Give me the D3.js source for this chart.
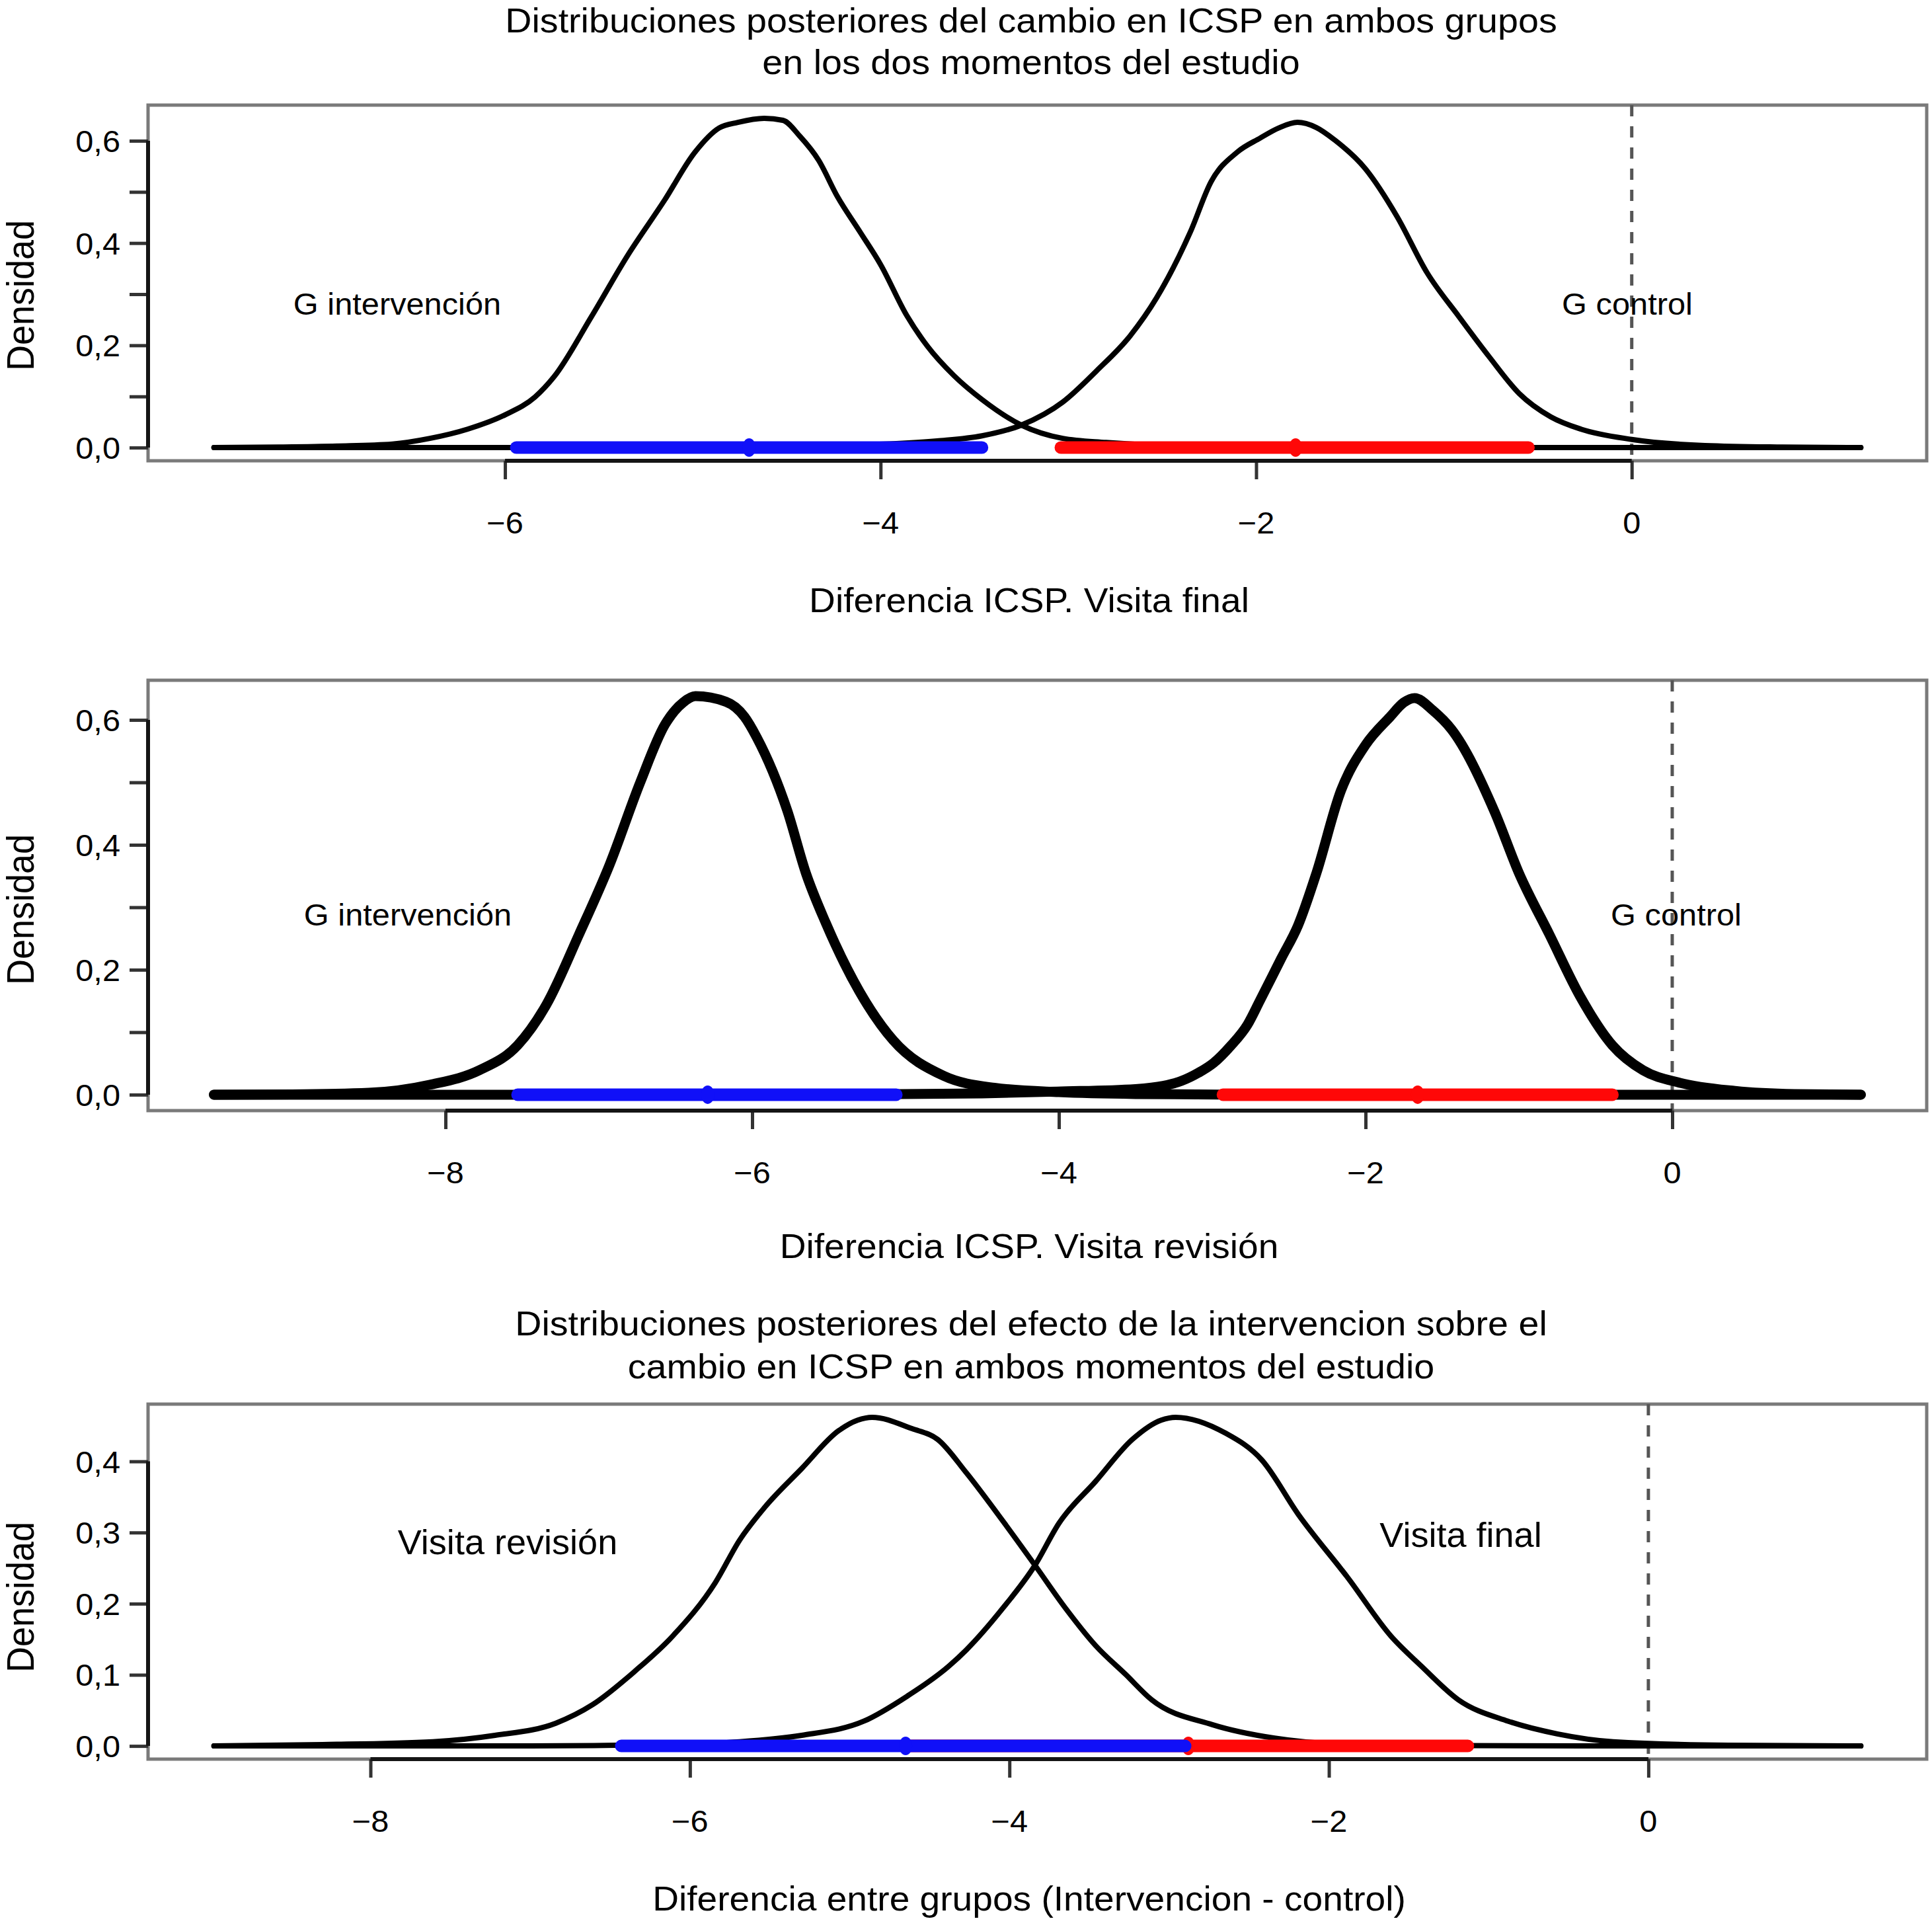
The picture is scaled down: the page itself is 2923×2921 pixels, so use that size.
<!DOCTYPE html>
<html><head><meta charset="utf-8">
<script src="https://cdn.jsdelivr.net/npm/d3@7"></script>
<style>
body{margin:0;background:#fff}
text{font-family:"Liberation Sans",Arial,Helvetica,sans-serif;fill:#000}
</style>
</head><body>
<svg id="c" width="2923" height="2921"></svg>
<script>
// ---------------- DATA ----------------
// Panel 1: Diferencia ICSP. Visita final  ([x, density])
const p1Intervencion = [[-7.55,0],[-7.2,0.001],[-6.89,0.003],[-6.6,0.007],[-6.40,0.018],[-6.20,0.036],[-6.0,0.064],[-5.84,0.099],[-5.74,0.138],[-5.54,0.256],[-5.35,0.374],[-5.15,0.484],[-4.99,0.577],[-4.86,0.625],[-4.76,0.636],[-4.62,0.644],[-4.52,0.64],[-4.43,0.609],[-4.33,0.562],[-4.23,0.491],[-4.11,0.422],[-4.00,0.358],[-3.86,0.258],[-3.75,0.198],[-3.61,0.141],[-3.46,0.094],[-3.25,0.044],[-3.03,0.018],[-2.80,0.010],[-2.4,0.003],[-1.6,0.0005],[-0.8,0],[1.22,0]];
const p1Control = [[-7.55,0],[-6.0,0],[-5.0,0.0005],[-4.4,0.002],[-4.10,0.005],[-3.70,0.013],[-3.46,0.023],[-3.25,0.044],[-3.03,0.089],[-2.85,0.150],[-2.67,0.219],[-2.53,0.293],[-2.35,0.422],[-2.24,0.52],[-2.10,0.578],[-1.98,0.605],[-1.88,0.625],[-1.78,0.636],[-1.68,0.626],[-1.58,0.601],[-1.42,0.546],[-1.25,0.452],[-1.09,0.342],[-0.92,0.256],[-0.76,0.178],[-0.60,0.106],[-0.43,0.06],[-0.27,0.036],[0.0,0.016],[0.39,0.004],[0.8,0.001],[1.22,0]];
// Panel 2: Diferencia ICSP. Visita revisión
const p2Intervencion = [[-9.51,0],[-9.0,0.0005],[-8.5,0.003],[-8.10,0.016],[-7.78,0.039],[-7.53,0.079],[-7.34,0.145],[-7.13,0.256],[-6.93,0.368],[-6.73,0.50],[-6.57,0.592],[-6.45,0.628],[-6.37,0.638],[-6.17,0.629],[-6.05,0.605],[-5.97,0.572],[-5.77,0.454],[-5.65,0.355],[-5.52,0.275],[-5.30,0.165],[-5.08,0.087],[-4.75,0.030],[-4.42,0.011],[-4.0,0.004],[-3.5,0.001],[-2.8,0],[1.23,0]];
const p2Control = [[-9.51,0],[-5.5,0],[-4.5,0.002],[-4.01,0.005],[-3.5,0.009],[-3.32,0.014],[-3.2,0.022],[-3.09,0.035],[-2.99,0.051],[-2.88,0.078],[-2.77,0.112],[-2.69,0.150],[-2.55,0.218],[-2.44,0.271],[-2.32,0.355],[-2.16,0.487],[-2.00,0.56],[-1.84,0.605],[-1.75,0.628],[-1.68,0.635],[-1.56,0.615],[-1.44,0.585],[-1.16,0.454],[-1.00,0.355],[-0.80,0.256],[-0.60,0.157],[-0.39,0.079],[-0.19,0.039],[0.05,0.019],[0.41,0.006],[0.8,0.001],[1.23,0]];
// Panel 3: Diferencia entre grupos
const p3Revision = [[-8.98,0],[-8.3,0.002],[-7.61,0.006],[-7.22,0.015],[-6.84,0.032],[-6.61,0.058],[-6.34,0.106],[-6.11,0.154],[-5.84,0.230],[-5.69,0.289],[-5.53,0.336],[-5.30,0.39],[-5.07,0.443],[-4.95,0.458],[-4.86,0.462],[-4.61,0.446],[-4.45,0.431],[-4.27,0.384],[-4.07,0.325],[-3.84,0.254],[-3.65,0.194],[-3.46,0.141],[-3.27,0.100],[-3.11,0.065],[-2.73,0.030],[-2.34,0.011],[-1.95,0.003],[-1.2,0.0005],[-0.3,0],[1.33,0]];
const p3Final = [[-8.98,0],[-7.0,0],[-6.2,0.002],[-5.69,0.006],[-5.30,0.015],[-4.91,0.035],[-4.64,0.07],[-4.38,0.112],[-4.27,0.135],[-4.04,0.194],[-3.84,0.254],[-3.69,0.313],[-3.46,0.372],[-3.23,0.431],[-3.05,0.458],[-2.96,0.462],[-2.65,0.440],[-2.42,0.402],[-2.19,0.325],[-1.88,0.236],[-1.61,0.154],[-1.42,0.112],[-1.19,0.065],[-0.88,0.035],[-0.57,0.017],[-0.22,0.006],[0.5,0.001],[1.33,0]];

// credible intervals: [low, median, high]
const p1BlueInterval = [-5.94, -4.70, -3.46];
const p1RedInterval  = [-3.04, -1.79, -0.55];
const p2BlueInterval = [-7.53, -6.29, -5.06];
const p2RedInterval  = [-2.93, -1.66, -0.39];
const p3RedInterval  = [-4.63, -2.88, -1.13];
const p3BlueInterval = [-6.43, -4.65, -2.90];

// ticks
const p1XTicks = [-6, -4, -2, 0];
const p1YTicks = [0, 0.1, 0.2, 0.3, 0.4, 0.5, 0.6];
const p1YLabels = [0, 0.2, 0.4, 0.6];
const p2XTicks = [-8, -6, -4, -2, 0];
const p2YTicks = [0, 0.1, 0.2, 0.3, 0.4, 0.5, 0.6];
const p2YLabels = [0, 0.2, 0.4, 0.6];
const p3XTicks = [-8, -6, -4, -2, 0];
const p3YTicks = [0, 0.1, 0.2, 0.3, 0.4];
const p3YLabels = [0, 0.1, 0.2, 0.3, 0.4];

// texts
const title1 = ["Distribuciones posteriores del cambio en ICSP en ambos grupos", "en los dos momentos del estudio"];
const title3 = ["Distribuciones posteriores del efecto de la intervencion sobre el", "cambio en ICSP en ambos momentos del estudio"];
const xTitles = ["Diferencia ICSP. Visita final", "Diferencia ICSP. Visita revisión", "Diferencia entre grupos (Intervencion - control)"];
const yTitle = "Densidad";
const p1Labels = ["G intervención", "G control"];
const p2Labels = ["G intervención", "G control"];
const p3Labels = ["Visita revisión", "Visita final"];

// ---------------- DRAW ----------------
const svg = d3.select("#c");
svg.append("rect").attr("width",2923).attr("height",2921).attr("fill","#fff");
const SX = 1.06;
const BLUE = "#1010f8", RED = "#ff0808";
const fmtY = v => d3.format(".1f")(v).replace(".", ",");
const fmtX = d3.format("d");

function hText(g, x, y, str, size, anchor){
  g.append("text").attr("transform", `translate(${x},${y}) scale(${SX},1)`)
   .attr("text-anchor", anchor||"middle").attr("font-size", size).text(str);
}

function panel(cfg){
  const g = svg.append("g");
  const all = cfg.curves.flatMap(c => c.data);
  const xe = d3.extent(all, d => d[0]);
  const ym = d3.max(all, d => d[1]);
  const xp = 0.04*(xe[1]-xe[0]), yp = 0.04*ym;
  const x = d3.scaleLinear().domain([xe[0]-xp, xe[1]+xp]).range([cfg.left, cfg.right]);
  const y = d3.scaleLinear().domain([-yp, ym+yp]).range([cfg.bottom, cfg.top]);

  // box
  g.append("rect").attr("x",cfg.left).attr("y",cfg.top)
    .attr("width",cfg.right-cfg.left).attr("height",cfg.bottom-cfg.top)
    .attr("fill","none").attr("stroke","#7a7a7a").attr("stroke-width",5);

  // dashed zero line
  g.append("line").attr("x1",x(0)).attr("x2",x(0)).attr("y1",cfg.top).attr("y2",cfg.bottom)
    .attr("stroke","#555").attr("stroke-width",5).attr("stroke-dasharray","17,15");

  // x axis
  const xa = g.append("g").attr("transform",`translate(0,${cfg.bottom})`)
    .call(d3.axisBottom(x).tickValues(cfg.xTicks).tickSize(28).tickFormat(""));
  xa.select(".domain").remove();
  xa.selectAll(".tick line").attr("stroke","#333").attr("stroke-width",5);
  g.append("line").attr("x1",x(cfg.xTicks[0])).attr("x2",x(cfg.xTicks[cfg.xTicks.length-1]))
    .attr("y1",cfg.bottom).attr("y2",cfg.bottom).attr("stroke","#151515").attr("stroke-width",6);
  cfg.xTicks.forEach(t => hText(g, x(t), cfg.bottom+110, fmtX(t), 46));

  // y axis
  const ya = g.append("g").attr("transform",`translate(${cfg.left},0)`)
    .call(d3.axisLeft(y).tickValues(cfg.yTicks).tickSize(28).tickFormat(""));
  ya.select(".domain").remove();
  ya.selectAll(".tick line").attr("stroke","#333").attr("stroke-width",5);
  g.append("line").attr("x1",cfg.left).attr("x2",cfg.left)
    .attr("y1",y(cfg.yTicks[0])).attr("y2",y(cfg.yTicks[cfg.yTicks.length-1]))
    .attr("stroke","#151515").attr("stroke-width",6);
  cfg.yLabels.forEach(t => hText(g, cfg.left-42, y(t)+17, fmtY(t), 46, "end"));

  // curves
  const line = d3.line().x(d => x(d[0])).y(d => y(d[1])).curve(d3.curveMonotoneX);
  cfg.curves.forEach(c => {
    g.append("path").datum(c.data).attr("d", line).attr("fill","none")
      .attr("stroke","#000").attr("stroke-width",cfg.lw).attr("stroke-linejoin","round").attr("stroke-linecap","round");
  });

  // intervals
  cfg.intervals.forEach(iv => {
    g.append("line").attr("x1",x(iv.v[0])).attr("x2",x(iv.v[2])).attr("y1",y(0)).attr("y2",y(0))
      .attr("stroke",iv.color).attr("stroke-width",19).attr("stroke-linecap","round");
    g.append("ellipse").attr("cx",x(iv.v[1])).attr("cy",y(0)).attr("rx",10).attr("ry",14).attr("fill",iv.color);
  });

  // labels
  cfg.labels.forEach(l => hText(g, l.x, l.y, l.text, l.size));
  // axis titles
  hText(g, 1557, cfg.xTitleY, cfg.xTitle, 52);
  g.append("text").attr("transform",`translate(51,${cfg.yTitleY}) scale(${SX},1) rotate(-90)`)
    .attr("text-anchor","middle").attr("font-size",54).text(yTitle);
  if (cfg.title) cfg.title.forEach((t,i) => hText(g, 1560, cfg.titleY[i], t, 52.5));
}

panel({left:224,right:2915,top:159,bottom:697,lw:8,
  curves:[{data:p1Intervencion},{data:p1Control}],
  intervals:[{v:p1BlueInterval,color:BLUE},{v:p1RedInterval,color:RED}],
  xTicks:p1XTicks,yTicks:p1YTicks,yLabels:p1YLabels,
  labels:[{text:p1Labels[0],x:601,y:476,size:46},{text:p1Labels[1],x:2462,y:476,size:46}],
  xTitle:xTitles[0],xTitleY:926,yTitleY:447,title:title1,titleY:[49,112]});

panel({left:224,right:2915,top:1029,bottom:1680,lw:15,
  curves:[{data:p2Intervencion},{data:p2Control}],
  intervals:[{v:p2BlueInterval,color:BLUE},{v:p2RedInterval,color:RED}],
  xTicks:p2XTicks,yTicks:p2YTicks,yLabels:p2YLabels,
  labels:[{text:p2Labels[0],x:617,y:1400,size:46},{text:p2Labels[1],x:2536,y:1400,size:46}],
  xTitle:xTitles[1],xTitleY:1903,yTitleY:1376});

panel({left:224,right:2915,top:2124,bottom:2661,lw:8,
  curves:[{data:p3Revision},{data:p3Final}],
  intervals:[{v:p3RedInterval,color:RED},{v:p3BlueInterval,color:BLUE}],
  xTicks:p3XTicks,yTicks:p3YTicks,yLabels:p3YLabels,
  labels:[{text:p3Labels[0],x:768,y:2351,size:51},{text:p3Labels[1],x:2210,y:2340,size:51}],
  xTitle:xTitles[2],xTitleY:2890,yTitleY:2416,title:title3,titleY:[2020,2085]});
</script>
</body></html>
